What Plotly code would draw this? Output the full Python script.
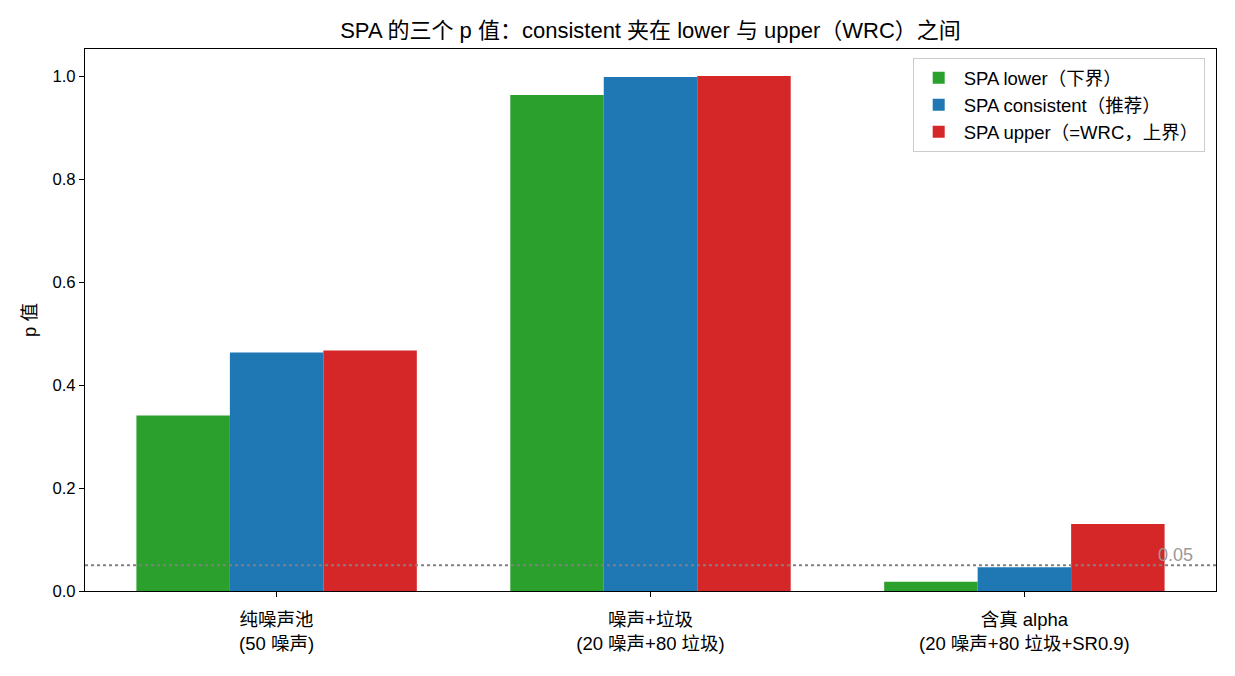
import plotly.graph_objects as go

categories = ["纯噪声池<br>(50 噪声)", "噪声+垃圾<br>(20 噪声+80 垃圾)", "含真 alpha<br>(20 噪声+80 垃圾+SR0.9)"]
series_names = ["SPA lower（下界）", "SPA consistent（推荐）", "SPA upper（=WRC，上界）"]
lower_vals = [0.341, 0.963, 0.018]
consistent_vals = [0.463, 0.998, 0.046]
upper_vals = [0.467, 1.000, 0.130]
colors = ["#2ca02c", "#1f77b4", "#d62728"]
threshold = 0.05
y_ticks = [0.0, 0.2, 0.4, 0.6, 0.8, 1.0]

FONT = "Liberation Sans, Noto Sans CJK SC, DejaVu Sans, sans-serif"
FS = 16.7
FS_TXT = 18.5

fig = go.Figure()
xpos = list(range(len(categories)))
for name, vals, col in zip(series_names, [lower_vals, consistent_vals, upper_vals], colors):
    fig.add_trace(go.Bar(x=xpos, y=vals, name=name, marker=dict(color=col, line=dict(width=0))))

fig.add_shape(type="line", xref="paper", yref="y", x0=0, x1=1, y0=threshold, y1=threshold,
              line=dict(color="gray", width=2, dash="dot"))
fig.add_annotation(xref="paper", yref="y", x=0.981, y=threshold, text="0.05", showarrow=False,
                   xanchor="right", yanchor="bottom", yshift=-2,
                   font=dict(color="#999999", size=18, family=FONT))

fig.update_layout(
    width=1235, height=676,
    margin=dict(l=85, r=19, t=49, b=85),
    paper_bgcolor="white", plot_bgcolor="white",
    barmode="group", bargap=0.25, bargroupgap=0,
    font=dict(family=FONT, size=FS, color="black"),
    title=dict(text="SPA 的三个 p 值：consistent 夹在 lower 与 upper（WRC）之间",
               xref="paper", x=0.5, xanchor="center", y=0.955, yanchor="middle",
               font=dict(size=22, family=FONT, color="black")),
    legend=dict(x=0.99, y=0.983, xanchor="right", yanchor="top",
                bgcolor="rgba(255,255,255,0.9)", bordercolor="#cccccc", borderwidth=1,
                font=dict(size=FS_TXT, family=FONT), itemwidth=40),
    showlegend=True,
)
fig.update_xaxes(range=[-0.5125, 2.5125], tickvals=xpos, ticktext=categories,
                 showline=True, linecolor="black", linewidth=1, mirror=True,
                 ticks="outside", ticklen=5, tickcolor="black", showgrid=False, zeroline=False,
                 ticklabelstandoff=7,
                 tickfont=dict(size=FS_TXT, family=FONT))
fig.update_yaxes(range=[0, 1.0525], tickvals=y_ticks, tickformat=".1f",
                 showline=True, linecolor="black", linewidth=1, mirror=True,
                 ticks="outside", ticklen=5, tickcolor="black", showgrid=False, zeroline=False,
                 title=dict(text="p 值", standoff=10, font=dict(size=FS_TXT, family=FONT)),
                 tickfont=dict(size=FS, family=FONT))

fig.write_html("out.html")
